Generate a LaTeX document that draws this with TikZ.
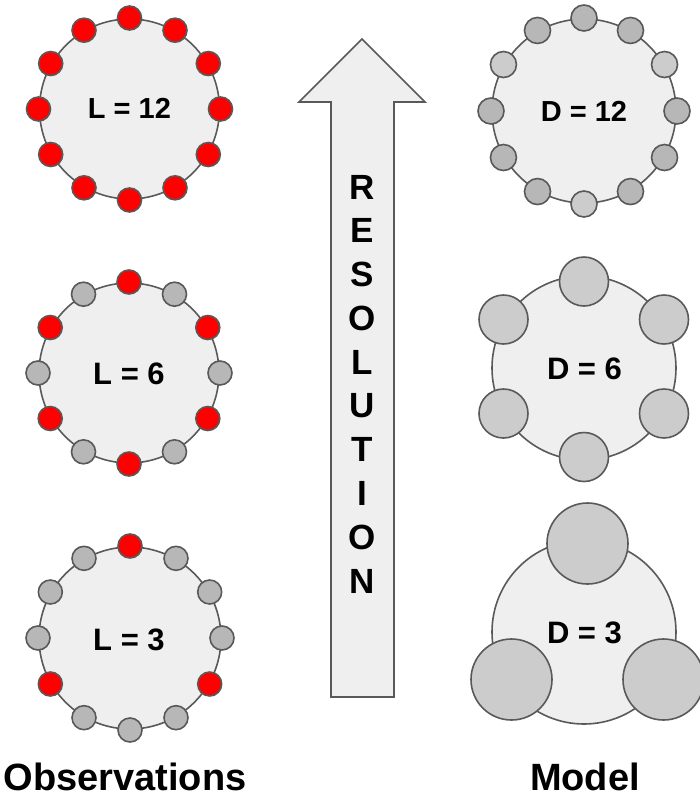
\documentclass[tikz,border=0pt]{standalone}
\usepackage{fontspec}
\setmainfont{Liberation Sans}
\definecolor{edgegrey}{HTML}{595959}
\definecolor{disk}{HTML}{EFEFEF}
\definecolor{dotgrey}{HTML}{B7B7B7}
\definecolor{dotlight}{HTML}{CCCCCC}
\definecolor{dotred}{HTML}{FF0000}
\tikzset{
  ring/.style={circle, draw=edgegrey, line width=1.6pt, fill=disk, inner sep=0pt, minimum size=#1},
  dot/.style={circle, draw=edgegrey, line width=1.6pt, inner sep=0pt, minimum size=#1},
  labsmall/.style={font=\fontsize{29}{29}\selectfont\bfseries, inner sep=0pt},
  labbig/.style={font=\fontsize{31}{31}\selectfont\bfseries, inner sep=0pt},
  letter/.style={font=\fontsize{35}{35}\selectfont\bfseries, inner sep=0pt},
  title/.style={font=\fontsize{38}{38}\selectfont\bfseries, inner sep=0pt, anchor=base},
  arrowbody/.style={draw=edgegrey, line width=1.6pt, fill=disk, line join=miter}
}
\begin{document}
\begin{tikzpicture}[x=1pt,y=-1pt]
\useasboundingbox (0,0) rectangle (700,804);

% ---------- Observations column ----------
\node[ring=180pt] (L12) at (129.5,109) {};
\node[labsmall] (L12t) at (129.5,108) {L = 12};
\foreach \k in {0,...,11}{
  \node[dot=24pt, fill=dotred] (L12d\k) at ({129.5+91*sin(30*\k)},{109-91*cos(30*\k)}) {};
}

\node[ring=180pt] (L6) at (129,373) {};
\node[labbig] (L6t) at (129,374) {L = 6};
\foreach \k in {0,...,11}{
  \pgfmathtruncatemacro{\r}{mod(\k,2)}
  \ifnum\r=0 \def\dc{dotred}\else\def\dc{dotgrey}\fi
  \node[dot=24pt, fill=\dc] (L6d\k) at ({129+91*sin(30*\k)},{373-91*cos(30*\k)}) {};
}

\node[ring=182pt] (L3) at (130,638) {};
\node[labbig] (L3t) at (129,640) {L = 3};
\foreach \k in {0,...,11}{
  \pgfmathtruncatemacro{\r}{mod(\k,4)}
  \ifnum\r=0 \def\dc{dotred}\else\def\dc{dotgrey}\fi
  \node[dot=24pt, fill=\dc] (L3d\k) at ({130+92*sin(30*\k)},{638-92*cos(30*\k)}) {};
}

% ---------- Model column ----------
\node[ring=184pt] (D12) at (584,111) {};
\node[labsmall] (D12t) at (584,111) {D = 12};
\foreach \k in {0,...,11}{
  \pgfmathtruncatemacro{\r}{mod(\k+2,4)}
  \ifnum\r=0 \def\dc{dotlight}\else\def\dc{dotgrey}\fi
  \node[dot=26pt, fill=\dc] (D12d\k) at ({584+93*sin(30*\k)},{111-93*cos(30*\k)}) {};
}

\node[ring=184pt] (D6) at (584,368) {};
\node[labbig] (D6t) at (584.5,368.5) {D = 6};
\node[dot=49pt, fill=dotlight] (D6a) at (584,281.5) {};
\node[dot=49pt, fill=dotlight] (D6b) at (664,319.5) {};
\node[dot=49pt, fill=dotlight] (D6c) at (664,413.5) {};
\node[dot=49pt, fill=dotlight] (D6d) at (584,457) {};
\node[dot=49pt, fill=dotlight] (D6e) at (503.5,413.5) {};
\node[dot=49pt, fill=dotlight] (D6f) at (503.5,319.5) {};

\node[ring=184pt] (D3) at (584,632) {};
\node[labbig] (D3t) at (584.5,633) {D = 3};
\node[dot=81pt, fill=dotlight] (D3a) at (587.5,543.5) {};
\node[dot=81pt, fill=dotlight] (D3b) at (511.5,679.5) {};
\node[dot=81pt, fill=dotlight] (D3c) at (663.5,679.5) {};

% ---------- Resolution arrow ----------
\draw[arrowbody] (331,697) -- (331,102) -- (299,102) -- (362,39) -- (425,102)
  -- (394,102) -- (394,697) -- cycle;
\foreach \ch [count=\i] in {R,E,S,O,L,U,T,I,O,N}{
  \node[letter] (res\i) at (362.5,{187+(\i-1)*43.8}) {\ch};
}

% ---------- Titles ----------
\node[title] (obs) at (125,790) {Observations};
\node[title] (mod) at (585,790) {Model};
\end{tikzpicture}
\end{document}
